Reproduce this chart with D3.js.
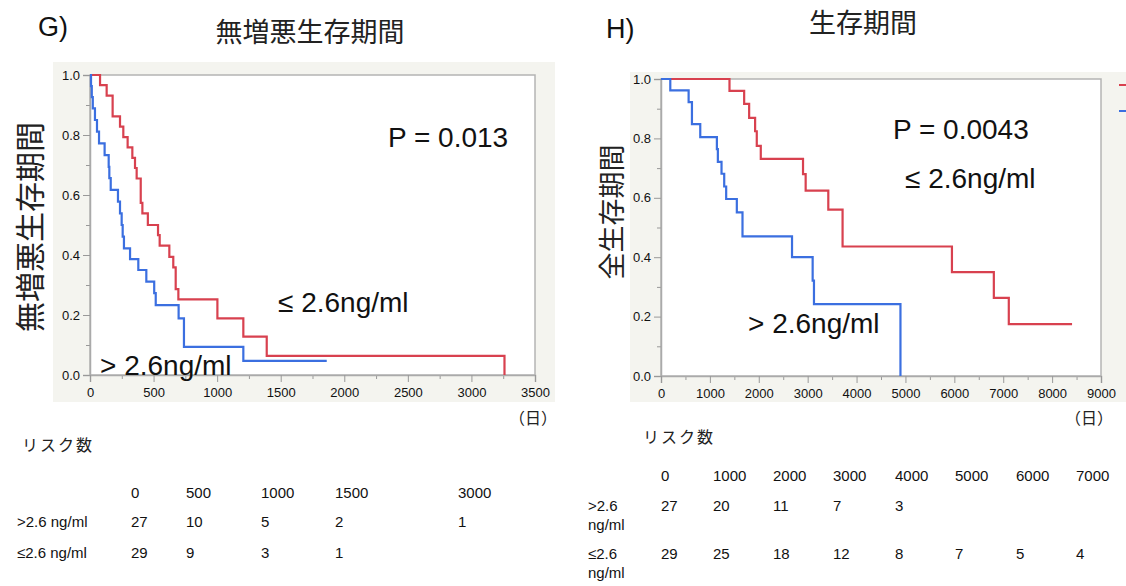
<!DOCTYPE html>
<html>
<head>
<meta charset="utf-8">
<script src="https://cdn.jsdelivr.net/npm/d3@7"></script>
<style>
  body { margin: 0; background: #fff; }
  svg { display: block; }
  text { font-family: "Liberation Sans", Arial, sans-serif; fill: #111; }
  .jp { font-family: "Noto Sans CJK JP", sans-serif; fill: #222; }
</style>
</head>
<body>
<div id="chart"></div>
<script>
// G) 無増悪生存期間 : [日数, 生存率]
const pfsLow = [[0,1.0],[79,0.966],[131,0.931],[178,0.862],[236,0.828],[262,0.793],[296,0.759],[333,0.724],[354,0.69],[367,0.655],[399,0.574],[412,0.539],[455,0.50],[535,0.466],[548,0.431],[624,0.394],[655,0.359],[674,0.286],[695,0.252],[1002,0.189],[1206,0.128],[1390,0.064],[3260,0.0]];
const pfsHigh = [[0,1.0],[8,0.963],[14,0.926],[22,0.889],[39,0.85],[55,0.811],[71,0.772],[115,0.733],[147,0.694],[152,0.656],[163,0.617],[220,0.578],[236,0.539],[249,0.50],[257,0.461],[267,0.422],[315,0.386],[380,0.35],[443,0.311],[505,0.273],[517,0.233],[697,0.189],[739,0.094],[1206,0.047],[1862,0.047]];

// H) 生存期間
const osLow = [[0,1.0],[1401,0.96],[1701,0.916],[1803,0.869],[1925,0.824],[1959,0.775],[2041,0.731],[2905,0.68],[2959,0.624],[3422,0.56],[3714,0.436],[5951,0.35],[6808,0.263],[7114,0.175],[8408,0.175]];
const osHigh = [[0,1.0],[190,0.962],[565,0.922],[633,0.848],[803,0.804],[1143,0.764],[1163,0.721],[1238,0.681],[1293,0.638],[1333,0.596],[1551,0.551],[1667,0.47],[2680,0.40],[3102,0.321],[3129,0.242],[4898,0.0]];

// リスク数
const pfsRiskTimes = [0, 500, 1000, 1500, 3000];
const pfsRiskHigh = [27, 10, 5, 2, 1];
const pfsRiskLow = [29, 9, 3, 1];
const osRiskTimes = [0, 1000, 2000, 3000, 4000, 5000, 6000, 7000];
const osRiskHigh = [27, 20, 11, 7, 3];
const osRiskLow = [29, 25, 18, 12, 8, 7, 5, 4];

const RED = "#d8414f", BLUE = "#3b6fe0";

const svg = d3.select("#chart").append("svg")
    .attr("width", 1126)
    .attr("height", 586);

function drawPanel(o) {
    // gray background panel
    svg.append("rect")
        .attr("x", o.panel[0]).attr("y", o.panel[1])
        .attr("width", o.panel[2]).attr("height", o.panel[3])
        .attr("fill", "#f4f4ef");

    const x = d3.scaleLinear().domain([0, o.xMax]).range([o.x0, o.x1]);
    const y = d3.scaleLinear().domain([0, 1]).range([o.y0, o.y1]);

    svg.append("rect")
        .attr("x", o.x0).attr("y", o.y1)
        .attr("width", o.x1 - o.x0).attr("height", o.y0 - o.y1)
        .attr("fill", "#fff")
        .attr("stroke", "#b4b4b4")
        .attr("stroke-width", 1.5);

    // minor ticks
    svg.append("g")
        .attr("transform", `translate(${o.x0},0)`)
        .call(d3.axisLeft(y).tickValues(d3.range(0.1, 1, 0.2)).tickSize(4).tickFormat(""))
        .call(g => g.select(".domain").remove())
        .call(g => g.selectAll("line").attr("stroke", "#999"));
    svg.append("g")
        .attr("transform", `translate(0,${o.y0})`)
        .call(d3.axisBottom(x).tickValues(d3.range(o.xStep / 2, o.xMax, o.xStep)).tickSize(4).tickFormat(""))
        .call(g => g.select(".domain").remove())
        .call(g => g.selectAll("line").attr("stroke", "#999"));

    // major ticks
    svg.append("g")
        .attr("transform", `translate(${o.x0},0)`)
        .call(d3.axisLeft(y).tickValues([0, 0.2, 0.4, 0.6, 0.8, 1.0]).tickSize(7).tickPadding(3).tickFormat(d3.format(".1f")))
        .call(g => g.select(".domain").attr("stroke", "#aaa").attr("stroke-width", 1.5))
        .call(g => g.selectAll("line").attr("stroke", "#999"))
        .call(g => g.selectAll("text").attr("font-size", 13).attr("font-family", "Liberation Sans").attr("fill", "#111"));
    svg.append("g")
        .attr("transform", `translate(0,${o.y0})`)
        .call(d3.axisBottom(x).tickValues(d3.range(0, o.xMax + 1, o.xStep)).tickSize(7).tickPadding(6).tickFormat(d3.format("d")))
        .call(g => g.select(".domain").attr("stroke", "#aaa").attr("stroke-width", 1.5))
        .call(g => g.selectAll("line").attr("stroke", "#999"))
        .call(g => g.selectAll("text").attr("font-size", 13).attr("font-family", "Liberation Sans").attr("fill", "#111"));

    const line = d3.line()
        .x(d => x(d[0]))
        .y(d => y(d[1]))
        .curve(d3.curveStepAfter);

    svg.append("path").datum(o.low)
        .attr("d", line).attr("fill", "none")
        .attr("stroke", RED).attr("stroke-width", 2.2);
    svg.append("path").datum(o.high)
        .attr("d", line).attr("fill", "none")
        .attr("stroke", BLUE).attr("stroke-width", 2.2);

    // labels
    svg.append("text").attr("x", o.tag[0]).attr("y", o.tag[1])
        .attr("font-size", 27).text(o.tagText);
    svg.append("text").attr("class", "jp").attr("x", o.title[0]).attr("y", o.title[1])
        .attr("text-anchor", "middle").attr("font-size", 27).text(o.titleText);
    svg.append("text").attr("class", "jp")
        .attr("transform", `translate(${o.ylab[0]},${o.ylab[1]}) rotate(-90)`)
        .attr("text-anchor", "middle").attr("dy", "0.36em")
        .attr("font-size", o.ylabSize).text(o.ylabText);
    svg.append("text").attr("class", "jp").attr("x", o.unit[0]).attr("y", o.unit[1])
        .attr("text-anchor", "middle").attr("font-size", 16).text("（日）");

    o.notes.forEach(n => {
        svg.append("text").attr("x", n[0]).attr("y", n[1])
            .attr("font-size", 28).attr("fill", "#000").text(n[2]);
    });
}

drawPanel({
    panel: [53, 62, 502, 340],
    x0: 90, x1: 535, y0: 375, y1: 75, xMax: 3500, xStep: 500,
    low: pfsLow, high: pfsHigh,
    tag: [38, 36], tagText: "G)",
    title: [310, 42], titleText: "無増悪生存期間",
    ylab: [30, 227], ylabText: "無増悪生存期間", ylabSize: 30,
    unit: [533, 424],
    notes: [[388, 147, "P = 0.013"], [278, 312, "≤ 2.6ng/ml"], [100, 375, "> 2.6ng/ml"]]
});

drawPanel({
    panel: [630, 72, 496, 330],
    x0: 661, x1: 1101, y0: 376, y1: 79, xMax: 9000, xStep: 1000,
    low: osLow, high: osHigh,
    tag: [606, 38], tagText: "H)",
    title: [863, 33], titleText: "生存期間",
    ylab: [612, 212], ylabText: "全生存期間", ylabSize: 27,
    unit: [1089, 424],
    notes: [[893, 139, "P = 0.0043"], [905, 188, "≤ 2.6ng/ml"], [748, 333, "> 2.6ng/ml"]]
});

// 凡例 (右端で切れている)
svg.append("line").attr("x1", 1119).attr("x2", 1126).attr("y1", 85).attr("y2", 85)
    .attr("stroke", RED).attr("stroke-width", 2);
svg.append("line").attr("x1", 1119).attr("x2", 1126).attr("y1", 111).attr("y2", 111)
    .attr("stroke", BLUE).attr("stroke-width", 2);

// リスク数テーブル
function drawRiskTable(o) {
    svg.append("text").attr("class", "jp").attr("x", o.titleX).attr("y", o.titleY)
        .attr("font-size", 16).attr("letter-spacing", 2).text("リスク数");
    const g = svg.append("g");
    o.times.forEach((t, i) => {
        g.append("text").attr("x", o.cols[i]).attr("y", o.headY).attr("font-size", 15).text(t);
    });
    o.rows.forEach(r => {
        r.label.forEach((s, k) => {
            g.append("text").attr("x", o.labelX).attr("y", r.y + k * 19).attr("font-size", 15).text(s);
        });
        r.values.forEach((v, i) => {
            g.append("text").attr("x", o.cols[i]).attr("y", r.y).attr("font-size", 15).text(v);
        });
    });
}

drawRiskTable({
    titleX: 22, titleY: 451, headY: 498, labelX: 17,
    cols: [131, 186, 261, 335, 458],
    times: pfsRiskTimes,
    rows: [
        { label: [">2.6 ng/ml"], values: pfsRiskHigh, y: 527 },
        { label: ["≤2.6 ng/ml"], values: pfsRiskLow, y: 558 }
    ]
});

drawRiskTable({
    titleX: 643, titleY: 443, headY: 481, labelX: 588,
    cols: [661, 713, 773, 833, 895, 955, 1016, 1076],
    times: osRiskTimes,
    rows: [
        { label: [">2.6", "ng/ml"], values: osRiskHigh, y: 511 },
        { label: ["≤2.6", "ng/ml"], values: osRiskLow, y: 559 }
    ]
});
</script>
</body>
</html>
